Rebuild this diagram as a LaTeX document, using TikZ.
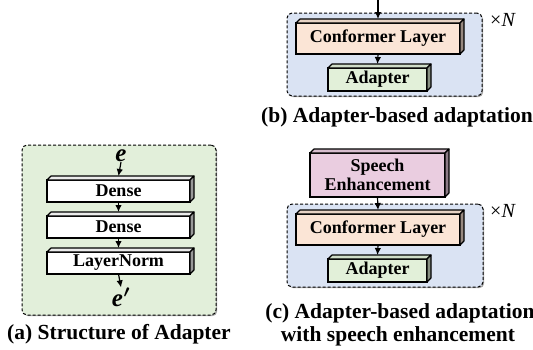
\documentclass[tikz,border=0pt]{standalone}
\usepackage{fontspec}
\setmainfont{Liberation Serif}
\usetikzlibrary{arrows.meta,shadows}

\definecolor{panelgreen}{RGB}{226,239,218}
\definecolor{panelblue}{RGB}{218,227,243}
\definecolor{conffill}{RGB}{251,229,214}
\definecolor{adapfill}{RGB}{226,240,217}
\definecolor{sefill}{RGB}{234,205,224}

\newcommand{\boxdepth}[2]{%
  \filldraw[fill=#2!92!black, line width=1.1pt, line join=round]
    (#1.north west) -- ++(4,-4) -- ([shift={(4,-4)}]#1.north east) -- (#1.north east) -- cycle;
  \filldraw[fill=#2!60!black, line width=1.1pt, line join=round]
    (#1.north east) -- ++(4,-4) -- ([shift={(4,-4)}]#1.south east) -- (#1.south east) -- cycle;
}

\tikzset{
  panelbox/.style={draw, dashed, dash pattern=on 3pt off 2pt, line width=1pt, rounded corners=5pt, inner sep=0pt, outer sep=0pt,
    drop shadow={shadow xshift=1.2pt, shadow yshift=-1.2pt, opacity=0.35, fill=black}},
  blockbox/.style={draw, line width=1.1pt, inner sep=0pt, outer sep=0pt, align=center,
    font=\fontsize{18}{19}\selectfont\bfseries},
  captext/.style={inner sep=0pt, font=\fontsize{21.5}{23}\selectfont\bfseries},
  vartext/.style={inner sep=0pt, font=\fontsize{25}{26}\selectfont\bfseries\itshape},
  multtext/.style={inner sep=0pt, font=\fontsize{20}{22}\selectfont},
  arrowline/.style={-{Latex[length=7pt,width=6.5pt]}, line width=1.2pt},
}

\begin{document}
\begin{tikzpicture}[x=1pt,y=-1pt]
\useasboundingbox (0,0) rectangle (533,349);

% ---------- (a) Structure of Adapter ----------
\node[panelbox, fill=panelgreen, minimum width=194pt, minimum height=170pt] (pa) at (119,230) {};
\node[vartext] (e) at (121,156) {e};
\node[blockbox, fill=white, minimum width=143pt, minimum height=22pt] (d1) at (118.5,191) {Dense};
\node[blockbox, fill=white, minimum width=143pt, minimum height=22pt] (d2) at (118.5,227) {Dense};
\node[blockbox, fill=white, minimum width=143pt, minimum height=22pt] (ln) at (118.5,263) {LayerNorm};
\node[vartext] (ep) at (121,297) {e\kern0.5pt{\boldmath$'$}};
\boxdepth{d1}{white}
\boxdepth{d2}{white}
\boxdepth{ln}{white}
\draw[arrowline] (e.south) -- ([yshift=4pt]d1.north);
\draw[arrowline] (d1.south) -- ([yshift=4pt]d2.north);
\draw[arrowline] (d2.south) -- ([yshift=4pt]ln.north);
\draw[arrowline] (ln.south) -- (ep.north);
\node[captext] (capa) at (119,334) {(a) Structure of Adapter};

% ---------- (b) Adapter-based adaptation ----------
\node[panelbox, fill=panelblue, minimum width=195pt, minimum height=83pt] (pb) at (384.5,54.5) {};
\node[blockbox, fill=conffill, minimum width=164pt, minimum height=31pt] (cb) at (378,38.5) {Conformer Layer};
\node[blockbox, fill=adapfill, minimum width=99pt, minimum height=23pt] (ab) at (377.5,79.5) {Adapter};
\boxdepth{cb}{conffill}
\boxdepth{ab}{adapfill}
\coordinate (inb) at (378,0);
\draw[arrowline] (inb) -- ([yshift=4pt]cb.north);
\draw[arrowline] (cb.south) -- ([yshift=4pt]ab.north);
\node[multtext] (nb) at (503,20) {×\textit{N}};
\node[captext] (capb) at (397,117) {(b) Adapter-based adaptation};

% ---------- (c) with speech enhancement ----------
\node[blockbox, fill=sefill, minimum width=135pt, minimum height=44pt] (se) at (377.5,175) {Speech\\Enhancement};
\boxdepth{se}{sefill}
\node[panelbox, fill=panelblue, minimum width=196pt, minimum height=83pt] (pc) at (385,245.5) {};
\node[blockbox, fill=conffill, minimum width=164pt, minimum height=31pt] (cc) at (378,229.5) {Conformer Layer};
\node[blockbox, fill=adapfill, minimum width=99pt, minimum height=23pt] (ac) at (377.5,270.5) {Adapter};
\boxdepth{cc}{conffill}
\boxdepth{ac}{adapfill}
\draw[arrowline] (se.south) -- ([yshift=4pt]cc.north);
\draw[arrowline] (cc.south) -- ([yshift=4pt]ac.north);
\node[multtext] (nc) at (503,211) {×\textit{N}};
\node[captext] (capc1) at (400,313) {(c) Adapter-based adaptation};
\node[captext] (capc2) at (398,336) {with speech enhancement};
\end{tikzpicture}
\end{document}
